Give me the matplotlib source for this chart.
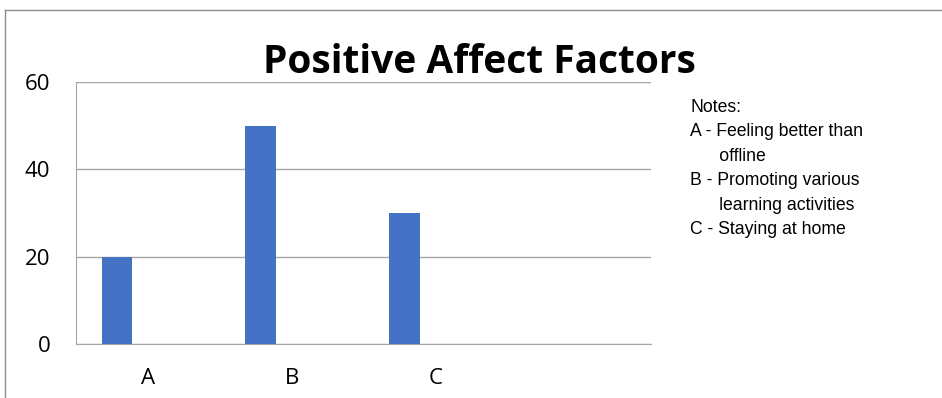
import matplotlib.pyplot as plt
import numpy as np

categories = ["A", "B", "C", ""]
values = [20, 50, 30]
yticks = [0, 20, 40, 60]
notes = [
    "Notes:",
    "A - Feeling better than",
    "      offline",
    "B - Promoting various",
    "      learning activities",
    "C - Staying at home",
]

fig = plt.figure(figsize=(9.42, 3.98), dpi=100)

# outer chart frame (cut at right and bottom)
fig.add_artist(plt.Line2D([4.5 / 942, 4.5 / 942], [0, 1 - 9.5 / 398], color="#8c8c8c", lw=1))
fig.add_artist(plt.Line2D([4.5 / 942, 1], [1 - 9.5 / 398, 1 - 9.5 / 398], color="#8c8c8c", lw=1))

ax = fig.add_axes([76 / 942, 1 - 344 / 398, (651 - 76) / 942, (344 - 82) / 398])

x = np.arange(len(values))
w = 0.215
ax.bar(x - w, values, width=w, color="#4472C4", zorder=3)

ax.set_xlim(-0.5, len(categories) - 0.5)
ax.set_ylim(0, 60)
ax.set_xticks(np.arange(len(categories)))
ax.set_xticklabels(categories)
ax.set_yticks(yticks)
ax.yaxis.grid(True, color="#a6a6a6", lw=1, zorder=0)
ax.tick_params(length=0, labelsize=16)
for lab in ax.get_xticklabels() + ax.get_yticklabels():
    lab.set_family("Open Sans")
ax.tick_params(axis="x", pad=17.5)
ax.tick_params(axis="y", pad=18.5)
for s in ["top", "right"]:
    ax.spines[s].set_visible(False)
for s in ["left", "bottom"]:
    ax.spines[s].set_color("#a6a6a6")

fig.text(479 / 942, 1 - 73 / 398, "Positive Affect Factors", ha="center", va="baseline",
         fontsize=28, fontweight="bold", family="Open Sans")

for i, line in enumerate(notes):
    fig.text(690 / 942, 1 - (112 + i * 24.5) / 398, line, ha="left", va="baseline",
             fontsize=12.7, family="Liberation Sans")

fig.savefig("out.png", dpi=100)
